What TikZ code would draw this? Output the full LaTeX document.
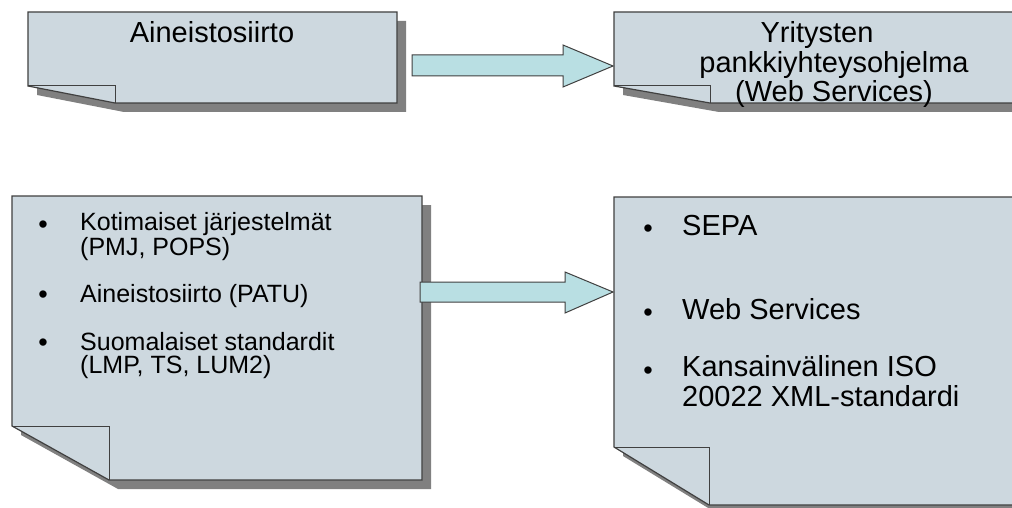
\documentclass[tikz,border=0pt]{standalone}
\usepackage{fontspec}
\setmainfont{Liberation Sans}
\definecolor{notefill}{HTML}{CDD8DF}
\definecolor{noteline}{HTML}{404040}
\definecolor{noteshadow}{HTML}{808080}
\definecolor{arrowfill}{HTML}{B9DFE3}
\newcommand\mynote[6]{%
  % #1 L, #2 T, #3 R, #4 B, #5 fold y, #6 fold x
  \fill[noteshadow] ({#1+9},{#2+9}) -- ({#3+9},{#2+9}) -- ({#3+9},{#4+9}) -- ({#6+9},{#4+9}) -- ({#1+9},{#5+9}) -- cycle;
  \draw[notestyle] (#1,#2) -- (#3,#2) -- (#3,#4) -- (#6,#4) -- (#1,#5) -- cycle;
  \draw[noteline, line width=1pt] (#1,#5) -- (#6,#5) -- (#6,#4);
}
\begin{document}
\begin{tikzpicture}[x=1pt,y=-1pt,
  notestyle/.style={fill=notefill, draw=noteline, line width=1.2pt, line join=miter},
  blockarrow/.style={fill=arrowfill, draw=noteline, line width=1pt, line join=miter},
  bigtext/.style={font=\fontsize{29}{29.5}\selectfont, inner sep=0pt},
  midtext/.style={font=\fontsize{25}{23}\selectfont, inner sep=0pt, align=left},
  bul/.style={font=\fontsize{27}{27}\selectfont, inner sep=0pt, anchor=base}]
\clip (0,0) rectangle (1012,508);
\fill[white] (0,0) rectangle (1012,508);
% boxes
\mynote{28}{12}{397}{103}{86}{115}
\mynote{614}{12}{1040}{103}{86}{710}
\mynote{12}{196}{422}{480}{426}{109}
\mynote{614}{197}{1040}{505}{447}{709}
% arrows
\draw[blockarrow] (412,55) -- (563,55) -- (563,45) -- (613,66) -- (563,87) -- (563,76) -- (412,76) -- cycle;
\draw[blockarrow] (420,282) -- (565,282) -- (565,272) -- (613,292) -- (565,313) -- (565,302) -- (420,302) -- cycle;
% top texts
\node[bigtext, anchor=base] (t1) at (212,43) {Aineistosiirto};
\node[bigtext, anchor=base, align=center] (t2) at (834,102) {Yritysten\hspace*{34pt}\\pankkiyhteysohjelma\\(Web Services)};
% bottom-left list
\node[bul] (b1) at (43,233) {•};
\node[midtext, anchor=base west] (i1) at (80,255) {Kotimaiset järjestelmät\\(PMJ, POPS)};
\node[bul] (b2) at (43,303) {•};
\node[midtext, anchor=base west] (i2) at (80,302) {Aineistosiirto (PATU)};
\node[bul] (b3) at (43,351) {•};
\node[midtext, anchor=base west] (i3) at (80,373) {Suomalaiset standardit\\(LMP, TS, LUM2)};
% bottom-right list
\node[bul] (c1) at (648,237) {•};
\node[bigtext, anchor=base west] (j1) at (682,235) {SEPA};
\node[bul] (c2) at (648,321) {•};
\node[bigtext, anchor=base west] (j2) at (682,319) {Web Services};
\node[bul] (c3) at (648,379) {•};
\node[bigtext, anchor=base west, align=left] (j3) at (682,406) {Kansainvälinen ISO\\20022 XML-standardi};
\end{tikzpicture}
\end{document}
